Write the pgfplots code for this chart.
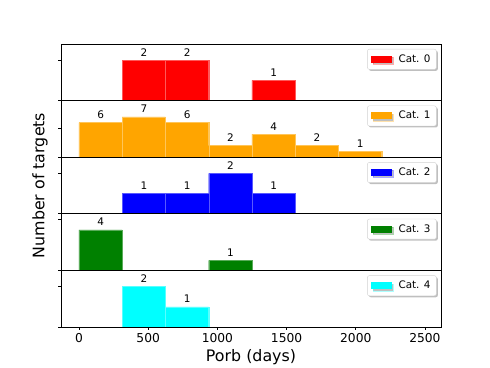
\documentclass[border=0pt]{standalone}
\usepackage{fontspec}
\setmainfont{DejaVu Sans}
\usepackage{pgfplots}
\pgfplotsset{compat=1.18}
\usepgfplotslibrary{groupplots}
\usetikzlibrary{calc,shadows}

\definecolor{cRed}{RGB}{255,0,0}
\definecolor{cOrange}{RGB}{255,165,0}
\definecolor{cBlue}{RGB}{0,0,255}
\definecolor{cGreen}{RGB}{0,128,0}
\definecolor{cCyan}{RGB}{0,255,255}

\pgfplotsset{
  panel/.style={
    ybar, bar width=312.5,
    xmin=-130, xmax=2616, ymin=0,
    scale only axis, width=380bp, height=56.6bp,
    axis line style={line width=0.85bp},
    tick style={black, line width=0.85bp}, major tick length=2.7bp,
    tick align=outside, ytick pos=left, xtick pos=bottom,
    yticklabels={}, xtick=\empty,
    /pgf/number format/assume math mode=true,
    /pgf/number format/1000 sep={},
    tick label style={font=\fontsize{12.3}{14}\selectfont},
    nodes near coords,
    every node near coord/.append style={font=\fontsize{10.5}{12}\selectfont, text=black, yshift=0.5bp},
    legend style={at={(1,1)}, anchor=north east, xshift=-4.5bp, yshift=-5bp,
      font=\fontsize{10.4}{12}\selectfont, rounded corners=2bp, draw=gray!35,
      drop shadow={shadow xshift=1.5bp, shadow yshift=-1.5bp, fill=gray, opacity=0.5},
      inner xsep=3.8bp, inner ysep=3.5bp, legend cell align=left,
      /tikz/every odd column/.append style={column sep=5bp}},
  },
  catbar/.style={fill=#1, draw=#1!65!white, line width=0.3bp,
    legend image code/.code={\fill[##1, draw=none, sharp corners] (0bp,-3.5bp) rectangle (20.4bp,3.5bp);}},
}

\begin{document}
\begin{tikzpicture}
\begin{groupplot}[group style={group size=1 by 5, vertical sep=0pt, group name=g}, panel]

\nextgroupplot[ymax=2.8, ytick={0,2}]
\addplot[catbar=cRed] coordinates {(468.75,2) (781.25,2) (1406.25,1)};
\addlegendentry{Cat. 0}

\nextgroupplot[ymax=9.8, ytick={0,5}]
\addplot[catbar=cOrange] coordinates {(156.25,6) (468.75,7) (781.25,6) (1093.75,2) (1406.25,4) (1718.75,2) (2031.25,1)};
\addlegendentry{Cat. 1}

\nextgroupplot[ymax=2.8, ytick={0,2},
  ylabel={Number of targets},
  every axis y label/.style={at={(rel axis cs:0,0.5)}, xshift=-21bp, rotate=90, anchor=center, font=\fontsize{15.9}{18}\selectfont}]
\addplot[catbar=cBlue] coordinates {(468.75,1) (781.25,1) (1093.75,2) (1406.25,1)};
\addlegendentry{Cat. 2}

\nextgroupplot[ymax=5.6, ytick={0,5}]
\addplot[catbar=cGreen] coordinates {(156.25,4) (1093.75,1)};
\addlegendentry{Cat. 3}

\nextgroupplot[ymax=2.8, ytick={0,2}, xtick={0,500,...,2500},
  xlabel={Porb (days)},
  every axis x label/.style={at={(rel axis cs:0.5,0)}, yshift=-30bp, anchor=center, font=\fontsize{15.9}{18}\selectfont}]
\addplot[catbar=cCyan] coordinates {(468.75,2) (781.25,1)};
\addlegendentry{Cat. 4}

\end{groupplot}
\pgfresetboundingbox
\path[use as bounding box] ($(g c1r1.north west)+(-61bp,44bp)$) rectangle ($(g c1r1.north west)+(429bp,-324bp)$);
\end{tikzpicture}
\end{document}
